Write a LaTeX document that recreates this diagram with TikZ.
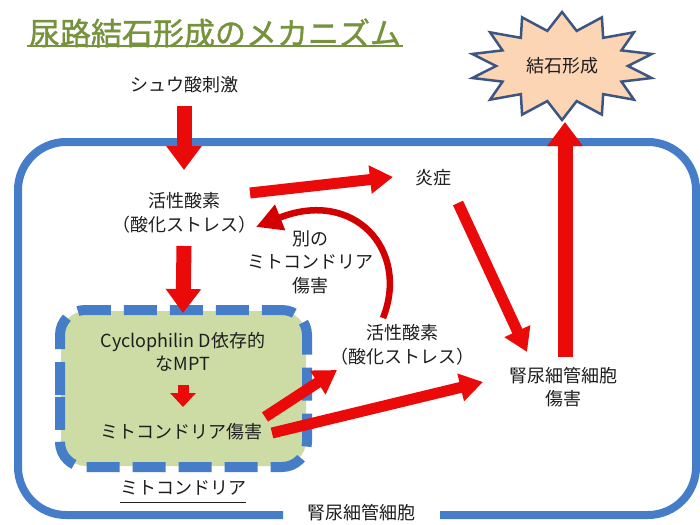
\documentclass[tikz,border=0pt]{standalone}
\usepackage{fontspec}
\setmainfont{Noto Sans CJK JP}
\newfontfamily\titlefont[FakeBold=1.2]{Noto Sans CJK JP}
\usetikzlibrary{arrows.meta,calc}
\definecolor{cellblue}{RGB}{70,125,200}
\definecolor{titlegreen}{RGB}{118,146,60}
\definecolor{mitofill}{RGB}{205,220,165}
\definecolor{starfill}{RGB}{252,213,180}
\definecolor{starline}{RGB}{60,85,130}
\definecolor{arrowred}{RGB}{235,10,10}
\definecolor{curvered}{RGB}{210,0,0}
\definecolor{txt}{RGB}{30,30,30}
\tikzset{
  bigarrow/.style={draw=arrowred, line width=15pt, -{Triangle[length=24pt,width=34pt]}},
  medarrow/.style={draw=arrowred, line width=11pt, -{Triangle[length=23pt,width=27pt]}},
  smallarrow/.style={draw=arrowred, line width=11pt, -{Triangle[length=14pt,width=25pt]}},
  curvearrow/.style={draw=curvered, line width=6.5pt, -{Triangle[length=26pt,width=26pt]}},
  lbl/.style={inner sep=0pt, text=txt, font=\fontsize{18}{23.5}\selectfont, align=center}
}
\begin{document}
\begin{tikzpicture}[x=1pt,y=-1pt]
\useasboundingbox (0,0) rectangle (700,524);
\fill[white] (0,0) rectangle (700,524);

% cell outline with gap for label
\draw[cellblue, line width=8pt, rounded corners=48pt]
  (283,515) -- (18,515) -- (18,142) -- (696,142) -- (696,515) -- (440,515);

% mitochondrion
\fill[mitofill, rounded corners=25pt] (61,311) rectangle (306,466);
\draw[cellblue, line width=10pt, dash pattern=on 33pt off 13pt, rounded corners=25pt]
  (60,420) -- (60,310) -- (307,310) -- (307,467) -- (60,467) -- cycle;

% star
\draw[starline, line width=2.5pt, fill=starfill, line join=miter]
  plot[samples at={0,...,27}] ({562+(79+13*cos(\x*180))*cos(\x*360/28+90)},
                                {66+(45+9*cos(\x*180))*sin(\x*360/28+90)}) -- cycle;

% nodes
\node[lbl, text=titlegreen, font=\titlefont\fontsize{31}{36}\selectfont] (title) at (215,33) {尿路結石形成のメカニズム};
\node[lbl] (oxalate) at (184,85) {シュウ酸刺激};
\node[lbl] (ros1) at (184,213) {活性酸素\\（酸化ストレス）};
\node[lbl] (inflam) at (433,178) {炎症};
\node[lbl] (other) at (310,262) {別の\\ミトコンドリア\\傷害};
\node[lbl] (ros2) at (402,345) {活性酸素\\（酸化ストレス）};
\node[lbl] (tubinj) at (563,387) {腎尿細管細胞\\傷害};
\node[lbl] (cyclo) at (183,352) {Cyclophilin D依存的\\なMPT};
\node[lbl] (mitoinj) at (181,432) {ミトコンドリア傷害};
\node[lbl] (mitolabel) at (183,488) {ミトコンドリア};
\node[lbl] (celllabel) at (361,513) {腎尿細管細胞};
\node[lbl] (stone) at (562,66) {結石形成};

% underlines
\draw[titlegreen, line width=1.6pt] ($(title.west)+(-2,13)$) -- ($(title.east)+(2,13)$);
\draw[txt, line width=1pt] ($(mitolabel.west)+(0,14)$) -- ($(mitolabel.east)+(0,14)$);

% arrows
\draw[bigarrow] ($(oxalate)+(0,21)$) -- ($(ros1)+(0,-43)$);
\draw[bigarrow] ($(ros1)+(0,33)$) -- ($(cyclo)+(0,-39)$);
\draw[medarrow] ($(ros1)+(66,-20)$) -- ($(inflam)+(-40,-1)$);
\draw[medarrow] ($(inflam)+(25,25)$) -- ($(tubinj)+(-36,-35)$);
\draw[bigarrow] ($(tubinj)+(2,-30)$) -- ($(stone)+(3,56)$);
\draw[smallarrow] ($(cyclo)+(0,33)$) -- ($(mitoinj)+(2,-25)$);
\draw[medarrow] ($(mitoinj)+(84,-15)$) -- ($(ros2)+(-65,25)$);
\draw[medarrow] ($(mitoinj)+(91,1)$) -- ($(tubinj)+(-80,-5)$);
\draw[curvearrow] ($(ros2)+(-19,-27)$) .. controls ($(ros2)+(8,-95)$) and ($(ros1)+(170,-25)$) .. ($(ros1)+(72,14)$);
\end{tikzpicture}
\end{document}
